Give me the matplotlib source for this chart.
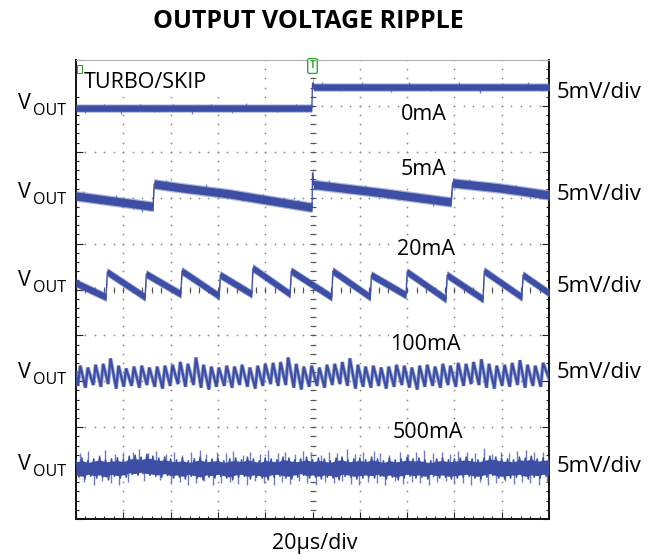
import numpy as np
import matplotlib
matplotlib.use("Agg")
import matplotlib.pyplot as plt
from matplotlib.patches import Rectangle

# ---------------- data ----------------
title = "OUTPUT VOLTAGE RIPPLE"
x_label = "20µs/div"
scale_label = "5mV/div"
box_label = "TURBO/SKIP"
loads = ["0mA", "5mA", "20mA", "100mA", "500mA"]
time_div_us = 20          # horizontal scale
volt_div_mV = 5           # vertical scale of every channel
n_hdiv, n_vdiv = 10, 10
channel_offset_div = [9.17, 7.06, 5.12, 3.14, 1.11]   # screen position of each trace

# 0 mA (time us, ripple mV)
t_0mA = [0.0, 99.7, 100.0, 100.5, 200.0]
v_0mA = [-1.09, -1.09, 1.63, 1.20, 1.20]
spk_0mA_t = [4, 12, 19, 27, 33, 41, 49, 57, 66, 72, 85, 93, 104, 112, 121, 133, 141, 150, 162, 171, 180, 191, 197]
spk_0mA_v = [-0.5, 0.4, -0.6, 0.5, -0.4, 0.5, -0.6, 0.4, -0.5, 0.6, -0.4, 0.5, 0.6, -0.4, 0.5, -0.5, 0.6, -0.4, 0.5, -0.6, 0.4, 0.5, -0.4]

# 5 mA
t_5mA = [0.0, 31.3, 32.6, 33.0, 44.0, 65.1, 98.9, 99.8, 100.0, 100.4, 128.5, 158.6, 159.2, 179.3, 200.0]
v_5mA = [-0.11, -1.20, -1.25, 1.20, 0.80, 0.11, -1.31, -1.31, 2.40, 1.14, 0.27, -0.76, 1.31, 0.76, 0.0]
spk_5mA_t = [3, 10, 17, 24, 28, 38, 47, 55, 61, 70, 79, 88, 94, 107, 115, 122, 136, 144, 151, 166, 173, 186, 194]
spk_5mA_v = [0.6, -0.5, 0.7, -0.6, -0.8, 0.6, -0.5, 0.7, 0.5, -0.6, 0.6, -0.5, 0.6, 0.7, -0.5, 0.6, -0.6, 0.5, -0.7, 0.6, -0.5, 0.6, -0.6]

# 20 mA sawtooth
t_20mA_jump = [12.7, 29.2, 44.3, 60.5, 74.3, 90.5, 108.1, 124.4, 139.5, 156.4, 172.1, 188.5]
v_20mA_bottom = [-1.42, -1.42, -1.09, -1.31, -1.09, -1.09, -1.42, -1.42, -1.20, -1.63, -1.63, -1.42]
v_20mA_top = [1.31, 1.09, 1.42, 0.98, 1.74, 1.42, 1.42, 0.98, 1.31, 0.98, 1.42, 0.98]
v_20mA_start, v_20mA_end = 0.11, -0.98

# 100 mA
t_100mA_trough = [0.8, 4.0, 7.3, 10.5, 13.6, 17.0, 20.2, 23.5, 26.8, 30.0,
                  33.3, 36.6, 39.8, 43.1, 46.3, 49.7, 52.9, 56.2, 59.4, 62.7,
                  66.0, 69.2, 72.5, 75.8, 79.0, 82.3, 85.5, 88.7, 92.1, 95.3,
                  98.6, 101.9, 105.1, 108.4, 111.6, 114.8, 118.2, 121.4, 124.7, 128.0,
                  131.2, 134.5, 137.8, 141.0, 144.3, 147.5, 150.8, 154.1, 157.3, 160.6,
                  163.9, 167.1, 170.4, 173.6, 176.9, 180.2, 183.4, 186.7, 189.9, 193.2,
                  196.5]
v_100mA_trough = [-1.2, -1.4, -1.1, -1.3, -1.0, -1.5, -1.3, -1.2, -1.4, -1.1,
                  -1.3, -1.5, -1.2, -1.0, -1.3, -1.1, -1.4, -1.6, -1.3, -1.2,
                  -1.4, -1.1, -1.3, -1.5, -1.2, -1.0, -1.2, -1.1, -1.4, -1.6,
                  -1.3, -1.2, -1.4, -1.1, -1.0, -1.2, -1.5, -1.3, -1.4, -1.2,
                  -1.5, -1.3, -1.1, -1.4, -1.6, -1.3, -1.2, -1.4, -1.1, -1.3,
                  -1.2, -1.0, -1.1, -1.4, -1.5, -1.2, -1.3, -1.1, -1.4, -1.2,
                  -1.3]
v_100mA_peak = [1.0, 0.8, 1.1, 1.2, 1.8, 1.0, 0.7, 0.9, 1.0, 0.8,
                0.9, 1.0, 1.1, 1.4, 1.2, 1.9, 1.1, 0.9, 0.8, 1.0,
                0.9, 1.1, 0.8, 1.0, 1.2, 1.3, 1.4, 1.9, 1.2, 0.9,
                1.0, 0.8, 1.1, 1.2, 1.4, 1.8, 1.1, 0.9, 1.0, 0.8,
                0.9, 1.1, 1.0, 0.8, 1.0, 1.1, 0.9, 1.2, 1.0, 1.3,
                1.2, 1.4, 1.7, 1.2, 1.0, 1.1, 1.3, 1.6, 1.1, 1.0,
                1.3]
v_100mA_start, v_100mA_end = 0.2, -0.4

# 500 mA: noise envelope sampled every 2.5 us, plus spikes
t_500mA = [0.0, 2.5, 5.0, 7.5, 10.0, 12.5, 15.0, 17.5, 20.0,
           22.5, 25.0, 27.5, 30.0, 32.5, 35.0, 37.5, 40.0,
           42.5, 45.0, 47.5, 50.0, 52.5, 55.0, 57.5, 60.0,
           62.5, 65.0, 67.5, 70.0, 72.5, 75.0, 77.5, 80.0,
           82.5, 85.0, 87.5, 90.0, 92.5, 95.0, 97.5, 100.0,
           102.5, 105.0, 107.5, 110.0, 112.5, 115.0, 117.5, 120.0,
           122.5, 125.0, 127.5, 130.0, 132.5, 135.0, 137.5, 140.0,
           142.5, 145.0, 147.5, 150.0, 152.5, 155.0, 157.5, 160.0,
           162.5, 165.0, 167.5, 170.0, 172.5, 175.0, 177.5, 180.0,
           182.5, 185.0, 187.5, 190.0, 192.5, 195.0, 197.5, 200.0]
v_500mA_upper = [0.9, 1.1, 0.8, 1.0, 1.2, 0.9, 1.0, 1.1, 0.9,
                 1.3, 1.4, 1.2, 1.5, 1.3, 1.1, 1.2, 1.0,
                 0.9, 1.1, 0.8, 1.0, 1.2, 0.9, 1.0, 1.1,
                 0.8, 1.0, 1.1, 0.9, 1.2, 1.0, 0.8, 1.1,
                 1.0, 0.9, 1.2, 1.1, 0.9, 1.0, 1.2, 0.9,
                 1.1, 1.0, 0.8, 1.1, 1.2, 0.9, 1.0, 1.1,
                 0.9, 1.2, 1.0, 0.8, 1.1, 0.9, 1.0, 1.2,
                 1.0, 1.1, 0.9, 0.8, 1.0, 1.1, 0.9, 1.0,
                 1.1, 1.2, 1.0, 0.9, 1.1, 1.3, 1.2, 1.0,
                 1.0, 0.9, 1.2, 1.1, 1.3, 1.0, 1.1, 1.2]
v_500mA_lower = [-1.0, -1.2, -0.9, -1.1, -1.0, -1.3, -0.9, -1.1, -1.0,
                 -0.7, -0.8, -0.6, -0.8, -0.9, -1.0, -0.8, -1.1,
                 -1.0, -1.2, -0.9, -1.1, -1.3, -1.0, -1.1, -0.9,
                 -1.1, -1.3, -1.0, -0.9, -1.2, -1.0, -1.1, -1.3,
                 -1.0, -0.9, -1.1, -1.2, -1.0, -0.8, -1.1, -1.0,
                 -1.2, -1.0, -1.1, -1.3, -0.9, -1.0, -1.2, -1.1,
                 -1.0, -1.1, -0.9, -1.2, -1.0, -1.3, -1.1, -0.9,
                 -1.1, -1.0, -1.2, -0.9, -1.1, -1.0, -1.2, -1.1,
                 -1.0, -0.9, -1.1, -1.2, -1.0, -0.8, -1.1, -1.2,
                 -1.1, -1.0, -0.9, -1.2, -1.0, -1.1, -0.9, -1.0]
spk_500mA_up_t = [1.5, 5.2, 9.8, 12.1, 16.4, 19.7, 24.3, 26.8, 30.5, 33.9,
                  38.2, 41.6, 45.0, 48.7, 52.3, 55.1, 59.6, 63.4, 66.2, 70.8,
                  73.5, 77.9, 81.2, 85.6, 88.4, 92.7, 96.0, 99.3, 103.8, 107.1,
                  110.5, 114.6, 117.9, 121.3, 125.8, 128.6, 132.4, 136.9, 140.2, 143.7,
                  147.3, 151.0, 154.6, 158.2, 161.7, 165.3, 168.8, 172.4, 175.9, 179.5,
                  183.1, 186.6, 190.3, 193.8, 197.4]
spk_500mA_up_v = [1.6, 1.9, 1.4, 2.0, 1.5, 1.8, 1.7, 2.1, 1.6, 1.9,
                  1.5, 1.8, 1.4, 1.7, 2.0, 1.5, 1.8, 1.6, 1.9, 1.4,
                  1.7, 1.5, 2.0, 1.6, 1.8, 1.5, 1.9, 1.7, 1.4, 1.8,
                  1.6, 2.1, 1.5, 1.7, 1.9, 1.6, 1.4, 1.8, 1.5, 1.7,
                  2.0, 1.6, 1.8, 1.5, 1.9, 1.7, 1.6, 2.2, 1.5, 1.8,
                  1.6, 1.9, 2.0, 1.7, 1.8]
spk_500mA_dn_t = [3.4, 7.6, 11.0, 14.8, 18.3, 22.0, 28.9, 35.6, 40.1, 43.8,
                  47.2, 50.6, 54.0, 57.8, 61.5, 65.0, 68.7, 72.1, 75.6, 79.4,
                  83.7, 87.0, 90.6, 94.3, 97.8, 101.5, 105.3, 108.9, 112.6, 116.2,
                  119.8, 123.4, 127.1, 130.7, 134.8, 138.3, 142.0, 145.6, 149.2, 152.8,
                  156.4, 160.0, 163.6, 167.2, 170.7, 174.2, 177.8, 181.4, 185.0, 188.6,
                  192.1, 195.6, 199.0]
spk_500mA_dn_v = [-1.5, -1.8, -1.4, -1.6, -1.9, -1.5, -1.4, -1.3, -1.7, -1.5,
                  -1.8, -1.6, -1.4, -1.9, -1.6, -1.5, -1.7, -1.8, -1.4, -1.6,
                  -1.9, -1.5, -1.7, -1.4, -1.6, -1.8, -1.5, -1.6, -1.4, -1.7,
                  -1.9, -1.5, -1.6, -1.8, -1.4, -1.7, -1.5, -1.6, -1.9, -1.5,
                  -1.4, -1.7, -1.6, -1.8, -1.5, -1.9, -1.6, -1.4, -1.7, -1.5,
                  -1.6, -1.8, -1.5]

# ---------------- style ----------------
W, H = 659, 554
TRACE = "#3c4fa5"
FUZZ = "#6d7cc0"
GRID = "#8a8a8a"
FONT = ["Open Sans", "DejaVu Sans"]
plt.rcParams["font.family"] = FONT

fig = plt.figure(figsize=(W / 100, H / 100), dpi=100)

def fx(x):
    return x / W

def fy(y):
    return 1 - y / H

ax = fig.add_axes([fx(76), fy(519), (549 - 76) / W, (519 - 60) / H])
T_MAX = n_hdiv * time_div_us
ax.set_xlim(0, T_MAX)
ax.set_ylim(0, n_vdiv)

def to_div(ch, v):
    return channel_offset_div[ch] + np.asarray(v, dtype=float) / volt_div_mV

# graticule: dotted major lines
minor_x = np.arange(0, T_MAX + 1e-9, time_div_us / 5)
minor_y = np.arange(0, n_vdiv + 1e-9, 0.2)
for k in range(1, n_hdiv):
    xs = np.full_like(minor_y, k * time_div_us)
    ax.scatter(xs, minor_y, s=1.6, color=GRID, lw=0, zorder=1)
for k in range(1, n_vdiv):
    ys = np.full_like(minor_x, k)
    ax.scatter(minor_x, ys, s=1.6, color=GRID, lw=0, zorder=1)
# centre cross ticks
ax.plot(minor_x, np.full_like(minor_x, n_vdiv / 2), ls="none", marker="|",
        ms=4, mew=0.8, color="#555555", zorder=1)
ax.plot(np.full_like(minor_y, T_MAX / 2), minor_y, ls="none", marker="_",
        ms=4, mew=0.8, color="#555555", zorder=1)

# TURBO/SKIP white box
ax.add_patch(Rectangle((0, (519 - 97) / 459), (258 - 76) / 473, 1 - (519 - 97) / 459,
                       transform=ax.transAxes, facecolor="white", edgecolor="none", zorder=2))

# frame
for s in ["left", "right", "bottom"]:
    ax.spines[s].set_color("#111111")
    ax.spines[s].set_linewidth(1.4)
ax.spines["top"].set_color("#b0b0b0")
ax.spines["top"].set_linewidth(0.8)
ax.set_xticks(np.arange(0, T_MAX + 1, time_div_us))
ax.set_xticks(minor_x, minor=True)
ax.set_yticks(np.arange(0, n_vdiv + 0.01, 1))
ax.set_yticks(minor_y, minor=True)
ax.tick_params(which="both", direction="in", top=False, right=True, bottom=True, left=True,
               labelbottom=False, labelleft=False, color="#222222", width=0.8)
ax.tick_params(which="major", length=5)
ax.tick_params(which="minor", length=2.5)

def band(ch, t, v, half, z=4):
    t = np.asarray(t, float)
    y = to_div(ch, v)
    h = half / volt_div_mV
    ax.fill_between(t, y - h * 1.3, y + h * 1.3, color=FUZZ, lw=0, alpha=0.55, zorder=z)
    ax.fill_between(t, y - h, y + h, color=TRACE, lw=0, zorder=z + 0.1)
    ax.plot(t, y, color=TRACE, lw=0.9, zorder=z + 0.2)

def spikes(ch, t_tr, v_tr, st, sv, color=FUZZ, lw=0.9):
    base = np.interp(st, t_tr, v_tr)
    y0 = to_div(ch, base)
    y1 = to_div(ch, base + np.asarray(sv))
    ax.vlines(st, y0, y1, color=color, lw=lw, zorder=3.9)

# 0 mA
band(0, t_0mA, v_0mA, 0.35)
spikes(0, t_0mA, v_0mA, spk_0mA_t, spk_0mA_v)

# 5 mA
band(1, t_5mA, v_5mA, 0.45)
spikes(1, t_5mA, v_5mA, spk_5mA_t, spk_5mA_v)

# 20 mA
t20 = [0.0]
v20 = [v_20mA_start]
for tj, vb, vt in zip(t_20mA_jump, v_20mA_bottom, v_20mA_top):
    t20 += [tj, tj + 0.5]
    v20 += [vb, vt]
t20.append(T_MAX)
v20.append(v_20mA_end)
band(2, t20, v20, 0.38)

# 100 mA
t100 = [0.0]
v100 = [v_100mA_start]
for tt, vtr, vpk in zip(t_100mA_trough, v_100mA_trough, v_100mA_peak):
    t100 += [tt, tt + 1.0]
    v100 += [vtr, vpk]
t100.append(T_MAX)
v100.append(v_100mA_end)
y100 = to_div(3, v100)
ax.plot(t100, y100, color=FUZZ, lw=2.8, alpha=0.65, zorder=4, solid_joinstyle="miter")
ax.plot(t100, y100, color=TRACE, lw=1.6, zorder=4.1, solid_joinstyle="miter")

# 500 mA: core band, zig-zag between envelope samples, spikes
t5 = np.asarray(t_500mA, float)
up5 = np.asarray(v_500mA_upper, float)
lo5 = np.asarray(v_500mA_lower, float)
ax.fill_between(t5, to_div(4, 0.75 * lo5), to_div(4, 0.75 * up5), color=TRACE, lw=0, zorder=4)
zz_t, zz_v = [], []
for i in range(len(t5)):
    zz_t += [t5[i], t5[i] + 1.25]
    zz_v += [up5[i], lo5[i]]
ax.plot(zz_t, to_div(4, zz_v), color=TRACE, lw=1.1, zorder=4.1)
ax.vlines(spk_500mA_up_t, to_div(4, np.zeros(len(spk_500mA_up_t))), to_div(4, spk_500mA_up_v),
          color=FUZZ, lw=1.0, zorder=3.9)
ax.vlines(spk_500mA_dn_t, to_div(4, np.zeros(len(spk_500mA_dn_t))), to_div(4, spk_500mA_dn_v),
          color=FUZZ, lw=1.0, zorder=3.9)

# ---------------- texts ----------------
fig.text(fx(308), fy(21), title, ha="center", va="center", fontsize=18, fontweight="bold")
fig.text(fx(315), fy(543), x_label, ha="center", va="center", fontsize=15.5)
fig.text(fx(84), fy(83), box_label, ha="left", va="center", fontsize=15.5, zorder=5)

load_pos = [(424, 114.5), (424, 169.5), (426, 249.5), (425, 344.5), (427.5, 432.5)]
for lab, (x, y) in zip(loads, load_pos):
    fig.text(fx(x), fy(y), lab, ha="center", va="center", fontsize=15.5, zorder=6,
             bbox=dict(facecolor="white", edgecolor="none", pad=0.5))

vout_y = [103.5, 192, 281, 372, 464]
scale_y = [92, 195, 286, 373, 466]
for yv, ys in zip(vout_y, scale_y):
    fig.text(fx(18), fy(yv), "V", ha="left", va="center", fontsize=15.5)
    fig.text(fx(33), fy(yv + 7.5), "OUT", ha="left", va="center", fontsize=11.5)
    fig.text(fx(557), fy(ys), scale_label, ha="left", va="center", fontsize=16)

# trigger and channel markers
fig.text(fx(312.5), fy(66), "T", ha="center", va="center", fontsize=7, color="#3aa33a",
         fontweight="bold",
         bbox=dict(boxstyle="round,pad=0.2", facecolor="white", edgecolor="#3aa33a", lw=1.0))
fig.patches.append(Rectangle((fx(77), fy(73)), 5 / W, 8 / H, transform=fig.transFigure,
                             facecolor="none", edgecolor="#3aa33a", lw=0.8))

fig.savefig("out.png", dpi=100)
